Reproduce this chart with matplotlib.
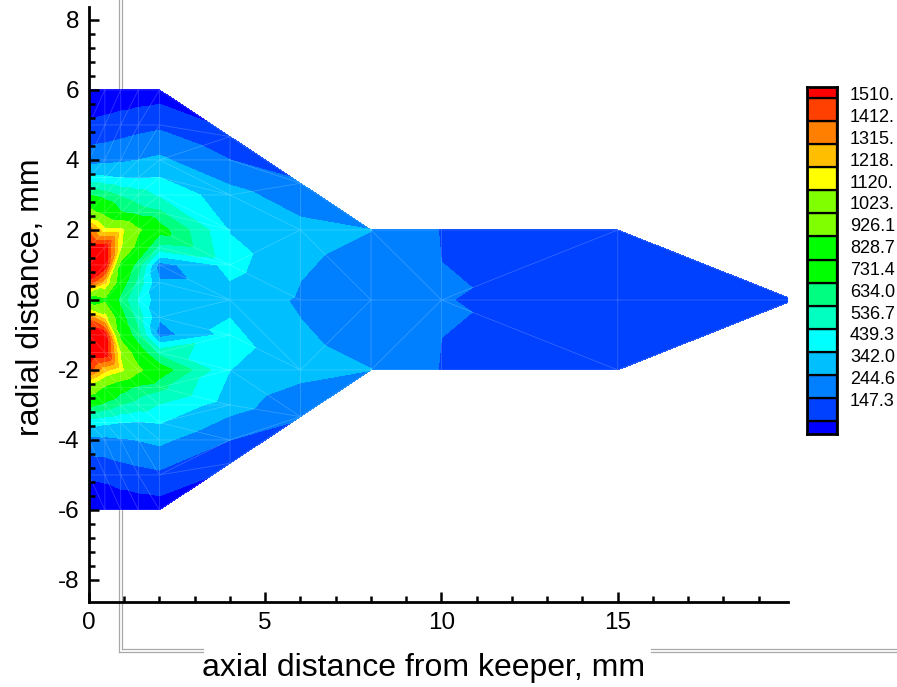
import numpy as np
import matplotlib
matplotlib.use("Agg")
import matplotlib.pyplot as plt
import matplotlib.tri as mtri
from matplotlib.lines import Line2D
from matplotlib.ticker import MultipleLocator, FixedLocator
import matplotlib.transforms as mtrans

plt.rcParams['font.family'] = ['Liberation Sans', 'DejaVu Sans']
plt.rcParams['axes.unicode_minus'] = False

# ---------------- data: mesh columns (axial position, radial nodes, values) ----
col_x = [0, 0.45, 0.9, 1.4, 2, 4, 6, 8, 10, 15, 20]

near_y = [-6, -5, -4, -3.5, -3, -2.5, -2, -1.5, -1, -0.5, 0, 0.5, 1, 1.5, 2, 2.5, 3, 3.5, 4, 5, 6]
c00_v = [70, 160, 310, 480, 760, 1050, 1450, 1620, 1600, 1380, 800, 1490, 1600, 1600, 1380, 980, 730, 460, 300, 162, 70]
c045_v = [72, 170, 315, 455, 700, 900, 1250, 1600, 1580, 1180, 880, 1250, 1590, 1580, 1150, 870, 680, 450, 310, 175, 75]
c09_v = [82, 192, 330, 440, 630, 780, 1150, 1100, 850, 780, 700, 800, 860, 1130, 1150, 740, 620, 435, 325, 190, 82]
c14_v = [88, 210, 345, 430, 590, 700, 960, 800, 660, 590, 520, 600, 680, 850, 950, 680, 580, 425, 342, 208, 88]
c2_v = [95, 225, 365, 445, 530, 660, 800, 600, 300, 350, 380, 350, 300, 600, 780, 650, 520, 440, 360, 225, 95]
c4_y = [-14/3, -4, -3, -2, -1, 0, 1, 2, 3, 4, 14/3]
c4_v = [170, 245, 385, 440, 475, 400, 470, 435, 380, 245, 170]
c6_y = [-10/3, -2, 0, 2, 10/3]
c6_v = [255, 375, 330, 375, 255]
c8_y = [-2, 0, 2]
c8_v = [343, 280, 343]
c10_y = [-2, 0, 2]
c10_v = [240, 250, 240]
c15_y = [-2, 0, 2]
c15_v = [219, 175, 219]
c20_y = [0]
c20_v = [165]

col_y = [near_y, near_y, near_y, near_y, near_y, c4_y, c6_y, c8_y, c10_y, c15_y, c20_y]
col_v = [c00_v, c045_v, c09_v, c14_v, c2_v, c4_v, c6_v, c8_v, c10_v, c15_v, c20_v]
# diagonal choice for square cells in each strip (upper half; mirrored below)
strip_rule = ['R', 'R', 'R', 'R', 'L', 'R', 'L', 'L', 'R', 'R']

level_labels = ["147.3", "244.6", "342.0", "439.3", "536.7", "634.0", "731.4", "828.7",
                "926.1", "1023.", "1120.", "1218.", "1315.", "1412.", "1510."]
levels = [float(s) for s in level_labels]
band_colors = ['#0000ff', '#0040ff', '#0080ff', '#00bfff', '#00ffff', '#00ffc0', '#00ff80',
               '#00ff00', '#00ff00', '#80ff00', '#80ff00', '#ffff00', '#ffbf00', '#ff8000',
               '#ff4000', '#ff0000']

# ---------------- build triangulation ----------------
X, Y, V, idx = [], [], [], []
for cx, ys, vs in zip(col_x, col_y, col_v):
    ids = []
    for yy, vv in zip(ys, vs):
        ids.append(len(X))
        X.append(cx); Y.append(yy); V.append(vv)
    idx.append(ids)

tris = []
for s in range(len(col_x) - 1):
    L, R = idx[s], idx[s + 1]
    yl, yr = col_y[s], col_y[s + 1]
    i = j = 0
    rule = strip_rule[s]
    while i < len(L) - 1 or j < len(R) - 1:
        if i == len(L) - 1:
            adv = 'R'
        elif j == len(R) - 1:
            adv = 'L'
        else:
            a, b = yl[i + 1], yr[j + 1]
            if a < b - 1e-9:
                adv = 'L'
            elif b < a - 1e-9:
                adv = 'R'
            else:
                adv = rule if a > 0 else ('L' if rule == 'R' else 'R')
        if adv == 'L':
            tris.append((L[i], L[i + 1], R[j])); i += 1
        else:
            tris.append((L[i], R[j + 1], R[j])); j += 1

triang = mtri.Triangulation(np.array(X, float), np.array(Y, float), np.array(tris))
Vals = np.array(V, float)

# ---------------- figure ----------------
W, H = 897, 687
fig = plt.figure(figsize=(W / 100, H / 100), dpi=100)
fig.patch.set_facecolor('white')

def fx(px):
    return px / W

def fy(py):
    return 1 - py / H

# Tecplot frame (double gray lines)
gray = '#a8a8a8'
for (xv, yh) in [(118.5, 651.5), (121.5, 648.5)]:
    fig.add_artist(Line2D([fx(xv), fx(xv)], [fy(0), fy(yh)], color=gray, lw=0.9, zorder=0.5))
    fig.add_artist(Line2D([fx(xv), fx(203)], [fy(yh), fy(yh)], color=gray, lw=0.9, zorder=0.5))
    fig.add_artist(Line2D([fx(651), fx(W)], [fy(yh), fy(yh)], color=gray, lw=0.9, zorder=0.5))

ax = fig.add_axes([fx(89), fy(602), fx(788) - fx(89), fy(7) - fy(602)])
ax.set_zorder(1)
ax.patch.set_alpha(0)

ax.tricontourf(triang, Vals, levels=levels, colors=band_colors, extend='both')
ax.triplot(triang, color='white', alpha=0.2, lw=0.6)

ax.set_xlim(0, 19.83)
ax.set_ylim(-8.63, 8.37)

for sp in ['top', 'right']:
    ax.spines[sp].set_visible(False)
for sp in ['left', 'bottom']:
    ax.spines[sp].set_linewidth(2.0)

ax.yaxis.set_major_locator(MultipleLocator(2))
ax.xaxis.set_minor_locator(FixedLocator([v for v in range(1, 20) if v % 5 != 0]))
ax.yaxis.set_minor_locator(FixedLocator([round(v, 2) for v in np.arange(-8, 8.01, 0.4)
                                         if abs(v / 2 - round(v / 2)) > 1e-6]))
ax.tick_params(which='major', direction='in', length=7.5, width=1.8, labelsize=17.5, pad=7)
ax.tick_params(which='minor', direction='in', length=4.5, width=1.8)
ax.set_xticks([0, 5, 10, 15])
ax.set_xticklabels(['0', '5', '10', '15'])

fig.text(fx(424), fy(668), 'axial distance from keeper, mm', ha='center', va='center', fontsize=23)
fig.text(fx(31), fy(297), 'radial distance, mm', ha='center', va='center', fontsize=23, rotation=90)

# ---------------- legend ----------------
top_h = 10.7 / 23.14
bot_h = 12.6 / 23.14
lax = fig.add_axes([fx(807), fy(434), fx(837) - fx(807), fy(87) - fy(434)])
lax.set_xlim(0, 1)
lax.set_ylim(1 - bot_h, 15 + top_h)
lax.bar([0.5] * len(band_colors), [1] * len(band_colors), bottom=np.arange(len(band_colors)),
        width=1.0, color=band_colors, edgecolor='black', linewidth=1.6)
lax.set_xticks([]); lax.set_yticks([])
for sp in lax.spines.values():
    sp.set_linewidth(2.0)
step = 21.86 / 23.14
trans = mtrans.blended_transform_factory(lax.transAxes, lax.transData)
for k, lab in enumerate(level_labels, start=1):
    ylab = 15 + 2.0 / 23.14 - step * (15 - k)
    lax.text(1.43, ylab, lab, transform=trans, ha='left', va='center', fontsize=13)

fig.savefig('out.png', dpi=100, facecolor='white')
